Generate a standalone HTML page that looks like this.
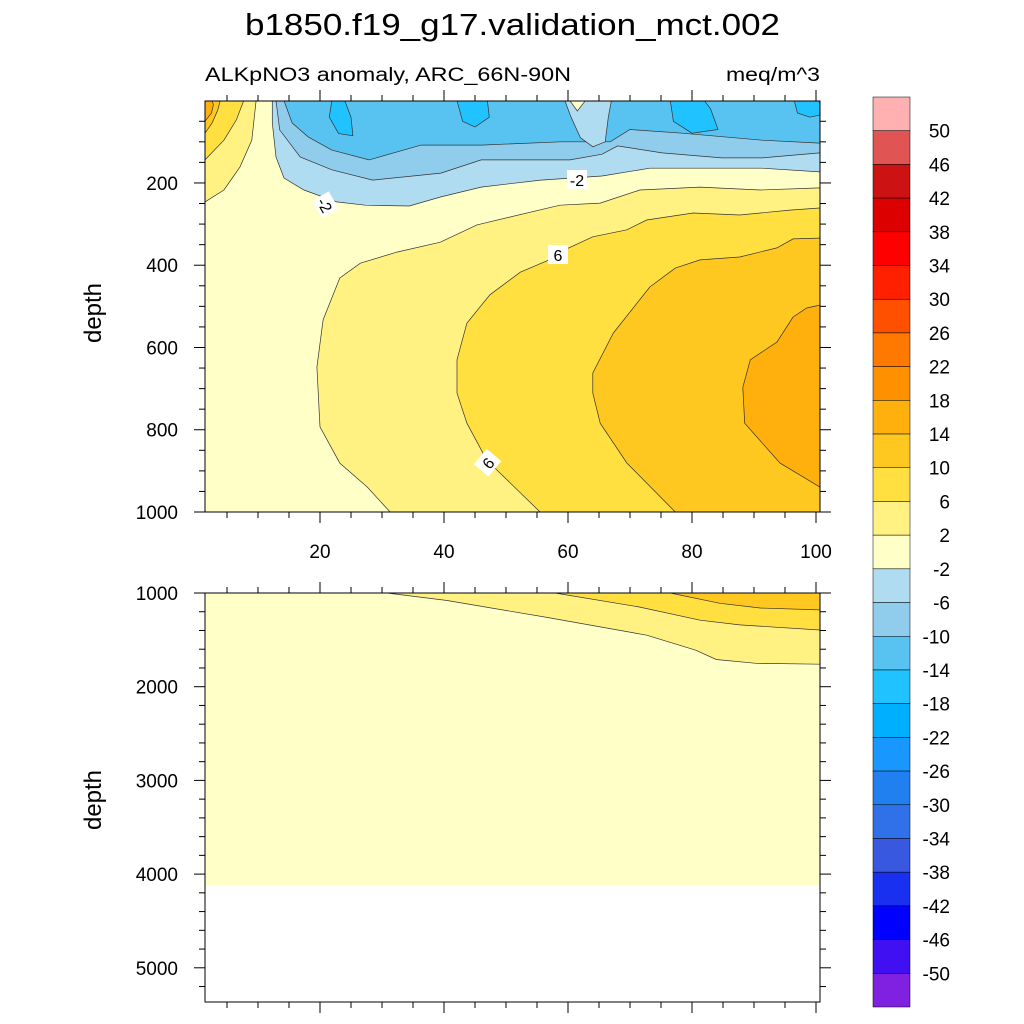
<!DOCTYPE html>
<html><head><meta charset="utf-8"><style>
body{margin:0;background:#fff}
svg{display:block;font-family:"Liberation Sans",sans-serif}
</style></head><body>
<svg id="chart" width="1024" height="1024" viewBox="0 0 1024 1024">
<text x="245" y="35" font-size="31" textLength="535" lengthAdjust="spacingAndGlyphs">b1850.f19_g17.validation_mct.002</text>
<text x="205" y="81" font-size="19" textLength="366" lengthAdjust="spacingAndGlyphs">ALKpNO3 anomaly, ARC_66N-90N</text>
<text x="726" y="81" font-size="19" textLength="94" lengthAdjust="spacingAndGlyphs">meq/m^3</text>
<text transform="translate(101,313) rotate(-90)" font-size="24" text-anchor="middle">depth</text>
<text transform="translate(101,800) rotate(-90)" font-size="24" text-anchor="middle">depth</text>
<g id="upper"></g>
<g id="lower"></g>
<g id="cbar"></g>
</svg>
<script>
// ---- data ----
const xTicks=[20,40,60,80,100];
const upperDepthTicks=[200,400,600,800,1000];
const lowerDepthTicks=[1000,2000,3000,4000,5000];
const levels=[50,46,42,38,34,30,26,22,18,14,10,6,2,-2,-6,-10,-14,-18,-22,-26,-30,-34,-38,-42,-46,-50];
const colors=["#ffb0b0","#e05454","#cc1212","#dd0000","#ff0000","#ff2000","#ff5000","#ff7800","#ff9100","#ffb00c","#ffc820","#ffe040","#fff283","#ffffc8","#b0dcf2","#90cdec","#58c2f0","#20c2ff","#00b0ff","#1898ff","#2080f0","#3070e8","#3858e0","#1a30f0","#0000ff","#4010f2","#8020e0"];
// upper panel contours [lat, depth]
const c2=[[100.6,212],[91,217],[81.3,210],[71.6,217],[65.2,249],[58.7,254],[45.3,302],[39.4,344],[32.4,368],[26.5,395],[23.2,431],[20.5,533],[19.5,648],[20,793],[23.2,881],[27.6,939],[31.3,1000]];
const c6=[[100.6,261],[95.8,266],[87.7,278],[80.2,273],[72.7,290],[69.5,314],[64,331],[58.7,368],[57.6,383],[52.3,417],[47.4,472],[43.7,541],[42.1,630],[42.1,711],[43.7,784],[46.9,874],[55.5,1000]];
const c10=[[100.6,334],[96.3,336],[93.7,358],[87.7,380],[81.3,387],[77.3,407],[73.2,453],[67.3,565],[64,662],[64,711],[65.2,784],[69.5,881],[77.3,1000]];
const c14=[[100.6,497],[98.5,504],[96.3,526],[93.7,587],[89.4,630],[88.2,697],[88.5,784],[94.2,881],[100.6,939]];
const left2=[[1.45,246],[4.5,217],[7.1,161],[9,96],[9.7,0]];
const left6=[[1.45,144],[4.5,96],[6.5,47],[7.7,0]];
const left10=[[1.45,79],[2.6,54],[3.5,23],[3.9,0]];
const left14=[[1.45,50],[2.5,30],[2.8,10],[2.6,0]];
const cm2=[[100.6,173],[91.3,164],[73.2,164],[65.5,183],[55.6,193],[46,210],[39.5,234],[34.4,256],[27.3,254],[22.7,246],[17.4,217],[14.2,188],[12.9,137],[12.3,54],[12.3,0]];
const cm6=[[100.6,127],[91.3,139],[84.8,139],[75.2,127],[68,110],[65.5,130],[60.3,144],[46,144],[39.5,176],[28.5,193],[21.9,168],[16.8,137],[13.5,71],[12.9,0]];
const cm10=[[100.6,103],[91.3,96],[78.4,79],[70,70],[66.8,100],[58.9,100],[46,108],[36.3,108],[27.9,144],[21.9,120],[18.1,88],[15.5,54],[14.2,0]];
const tongue=[[59.5,0],[60.5,40],[62,90],[64,112],[66,100],[66.5,40],[67,0]];
const speck=[[60.3,0],[61.5,25],[62.8,0]];
const blobs=[
 [[21.9,0],[21.5,40],[23,80],[25.3,85],[25,40],[24,0]],
 [[42.1,0],[43,50],[45,64],[47.3,40],[47,0]],
 [[76.5,0],[77,50],[80,79],[84.2,70],[83,20],[82,0]],
 [[96.5,0],[97,30],[99,40],[100.6,35],[100.6,0]]
];
// lower panel contours
const c2L=[[30.8,1000],[40.5,1080],[56.6,1260],[72.7,1450],[80.6,1610],[83.9,1710],[90.3,1750],[100.6,1760]];
const c6L=[[57.9,1000],[71.6,1150],[81.3,1290],[87.7,1340],[100.6,1395]];
const c10L=[[76.5,1000],[84.5,1110],[91,1160],[100.6,1180]];
const lowerFillBottom=4120;

// ---- scales ----
const NS="http://www.w3.org/2000/svg";
const X=v=>196+6.2*v;
const XL=205, XR=820;
const YU=d=>100.7+0.4113*d;
const YL=d=>593+0.0937*(d-1000);
const col=v=>{const i=levels.findIndex(l=>l<v);return colors[i===-1?26:i];};
function mk(tag,attrs,parent){const e=document.createElementNS(NS,tag);for(const k in attrs)e.setAttribute(k,attrs[k]);parent.appendChild(e);return e;}
function pts(arr,Y,extra){return arr.concat(extra||[]).map(p=>X(p[0]).toFixed(1)+","+Y(p[1]).toFixed(1)).join(" ");}

const up=document.getElementById('upper');
let r=mk('rect',{x:XL,y:101,width:XR-XL,height:411,fill:col(0)},up);


function band(arr,extra,v,name,Y,g,line){
  const p=mk('polygon',{points:pts(arr,Y,extra),fill:col(v),stroke:'none'},g);
  
  
  if(line){const l=mk('polyline',{points:pts(arr,Y),fill:'none',stroke:'#333','stroke-width':0.7},g);
  
  }
}
band(c2,[[100.6,1000]],4,'band-2-6',YU,up,true);
band(c6,[[100.6,1000]],8,'band-6-10',YU,up,true);
band(c10,[[100.6,1000]],12,'band-10-14',YU,up,true);
band(c14,[],16,'band-14-18',YU,up,true);
band(left2,[[1.45,0]],4,'band-left-2-6',YU,up,true);
band(left6,[[1.45,0]],8,'band-left-6-10',YU,up,true);
band(left10,[[1.45,0]],12,'band-left-10-14',YU,up,true);
band(left14,[[1.45,0]],16,'band-left-14-18',YU,up,true);
band(cm2,[[100.6,0]],-4,'band-neg2-neg6',YU,up,true);
band(cm6,[[100.6,0]],-8,'band-neg6-neg10',YU,up,true);
band(cm10,[[100.6,0]],-12,'band-neg10-neg14',YU,up,true);
band(tongue,[],-4,'band-tongue',YU,up,true);
band(speck,[],0,'band-speck',YU,up,true);
blobs.forEach((b,i)=>band(b,[],-16,'blob-neg14-'+i,YU,up,true));
// contour labels
function lab(x,y,t,rot,g){
  const gg=mk('g',{transform:`translate(${x},${y}) rotate(${rot})`},g);
  
  
  mk('rect',{x:-10,y:-10,width:20,height:19,fill:'#fff'},gg);
  const t2=mk('text',{x:0,y:6,'font-size':16,'text-anchor':'middle'},gg);t2.textContent=t;
}
lab(577,180,'-2',0,up);lab(325,205,'-2',60,up);lab(558,255,'6',0,up);lab(488,463,'6',-50,up);

const lo=document.getElementById('lower');
r=mk('rect',{x:XL,y:593,width:XR-XL,height:YL(lowerFillBottom)-593,fill:col(0)},lo);


band(c2L,[[100.6,1000]],4,'lower-band-2-6',YL,lo,true);
band(c6L,[[100.6,1000]],8,'lower-band-6-10',YL,lo,true);
band(c10L,[[100.6,1000]],12,'lower-band-10-14',YL,lo,true);

// axes
function frame(g,top,bot,Y,dTicks,minorStep,d0,d1,labelX,name){
  const f=mk('rect',{x:XL,y:top,width:XR-XL,height:bot-top,fill:'none',stroke:'#000','stroke-width':1},g);
  
  
  for(let v=5;v<=100;v+=5){const px=X(v);const maj=xTicks.includes(v);const L=maj?11:6;
    mk('line',{x1:px,y1:bot,x2:px,y2:bot+L,stroke:'#000'},g);mk('line',{x1:px,y1:top,x2:px,y2:top-L,stroke:'#000'},g);}
  for(let d=d0;d<=d1;d+=minorStep){const py=Y(d);const maj=dTicks.includes(d);const L=maj?11:6;
    mk('line',{x1:XL,y1:py,x2:XL-L,y2:py,stroke:'#000'},g);mk('line',{x1:XR,y1:py,x2:XR+L,y2:py,stroke:'#000'},g);}
  dTicks.forEach(d=>{const t=mk('text',{x:178,y:Y(d)+7,'font-size':19,'text-anchor':'end'},g);t.textContent=d;
    
    });
  if(labelX)xTicks.forEach(v=>{const t=mk('text',{x:X(v),y:558,'font-size':19,'text-anchor':'middle'},g);t.textContent=v;
    
    });
}
frame(up,101,512,YU,upperDepthTicks,50,50,1000,true,'upper');
frame(lo,593,1002,YL,lowerDepthTicks,200,1000,5200,false,'lower');

// colorbar
const cb=document.getElementById('cbar');
const h=(1007-97)/colors.length;
colors.forEach((c,i)=>{const b=mk('rect',{x:873,y:97+i*h,width:37,height:h,fill:c,stroke:'#000','stroke-width':0.5},cb);
  
  });
levels.forEach((l,i)=>{const t=mk('text',{x:950,y:97+(i+1)*h+7,'font-size':19,'text-anchor':'end'},cb);t.textContent=l;
  
  });
</script>
</body></html>
